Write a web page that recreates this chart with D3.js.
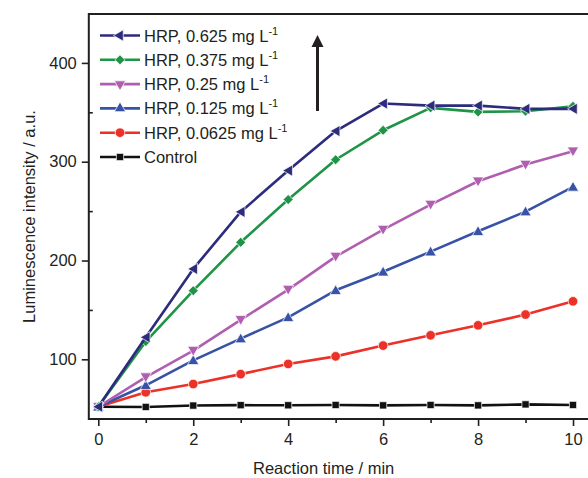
<!DOCTYPE html>
<html>
<head>
<meta charset="utf-8">
<script src="https://cdn.jsdelivr.net/npm/d3@7"></script>
<style>
  html, body { margin: 0; padding: 0; background: #fff; }
  svg { display: block; }
  text { font-family: "Liberation Sans", Arial, sans-serif; fill: #231f20; }
</style>
</head>
<body>
<svg id="chart" width="588" height="478"></svg>
<script>
// Reaction time (min)
const times = [0, 1, 2, 3, 4, 5, 6, 7, 8, 9, 10];

// Luminescence intensity (a.u.) for each HRP concentration
const hrp0625 = [52, 122.3, 191.5, 249.2, 291, 331, 358.9, 356.8, 356.8, 353.5, 353.5];
const hrp0375 = [52, 118, 169.5, 218.4, 261.7, 302, 331.8, 354.5, 350.4, 351.1, 356.1];
const hrp025  = [52, 82, 108.8, 140, 170.6, 204, 231.3, 256.6, 280.2, 297.1, 310.6];
const hrp0125 = [52, 73.7, 99, 121, 142.5, 169.9, 188.6, 209, 229.6, 249.5, 274.5];
const hrp00625 = [52, 66.6, 75, 85, 95.3, 103, 113.9, 124.3, 134.4, 145.3, 158.7];
const control = [52, 51.8, 53.2, 53.6, 53.5, 53.8, 53.4, 53.8, 53.4, 54.4, 53.8];

const seriesNames = ["HRP, 0.625 mg L", "HRP, 0.375 mg L", "HRP, 0.25 mg L",
                     "HRP, 0.125 mg L", "HRP, 0.0625 mg L", "Control"];
const seriesUnitSup = ["-1", "-1", "-1", "-1", "-1", ""];

const yMajorTicks = [100, 200, 300, 400];
const yMinorTicks = [150, 250, 350];
const xMajorTicks = [0, 2, 4, 6, 8, 10];
const xMinorTicks = [1, 3, 5, 7, 9];

const xTitle = "Reaction time / min";
const yTitle = "Luminescence intensity / a.u.";

// series styling: colour + marker
const styles = [
  { color: "#2c2b7d", shape: "tri", rot: -90, size: 55 },
  { color: "#1f9447", shape: "sq",  rot: 45,  size: 50 },
  { color: "#b05fb0", shape: "tri", rot: 180, size: 55 },
  { color: "#3853a6", shape: "tri", rot: 0,   size: 55 },
  { color: "#ec3129", shape: "circ", rot: 0,  size: 72 },
  { color: "#111111", shape: "sq",  rot: 0,   size: 52 }
];
const values = [hrp0625, hrp0375, hrp025, hrp0125, hrp00625, control];

const svg = d3.select("#chart");
const FS = 16.5;

const pLeft = 88.8, pRight = 592, pTop = 14, pBottom = 419;
const x = d3.scaleLinear().domain([-0.2, 10.4]).range([pLeft, pRight]);
const y = d3.scaleLinear().domain([39.6, 449.5]).range([pBottom, pTop]);

// axes
const axisColor = "#231f20";
function styleAxis(g) {
  g.select(".domain").remove();
  g.selectAll(".tick line").attr("stroke", axisColor).attr("stroke-width", 1.6);
  g.selectAll(".tick text").attr("font-size", FS).attr("fill", axisColor)
    .attr("font-family", "Liberation Sans, Arial, sans-serif");
}

svg.append("g").attr("transform", `translate(${pLeft},0)`)
  .call(d3.axisLeft(y).tickValues(yMajorTicks).tickSize(7).tickPadding(5).tickFormat(d3.format("d")))
  .call(styleAxis);
svg.append("g").attr("transform", `translate(${pLeft},0)`)
  .call(d3.axisLeft(y).tickValues(yMinorTicks).tickSize(-4).tickFormat(""))
  .call(styleAxis);
svg.append("g").attr("transform", `translate(0,${pBottom})`)
  .call(d3.axisBottom(x).tickValues(xMajorTicks).tickSize(7).tickPadding(7).tickFormat(d3.format("d")))
  .call(styleAxis);
svg.append("g").attr("transform", `translate(0,${pBottom})`)
  .call(d3.axisBottom(x).tickValues(xMinorTicks).tickSize(4).tickFormat(""))
  .call(styleAxis);

// plot frame
svg.append("rect")
  .attr("x", pLeft).attr("y", pTop)
  .attr("width", pRight - pLeft).attr("height", pBottom - pTop)
  .attr("fill", "none").attr("stroke", axisColor).attr("stroke-width", 2);

// axis titles
svg.append("text")
  .attr("x", (x(0) + x(10)) / 2 - 12).attr("y", 474)
  .attr("text-anchor", "middle").attr("font-size", FS)
  .text(xTitle);
svg.append("text")
  .attr("transform", `translate(35,${(pTop + pBottom) / 2}) rotate(-90)`)
  .attr("text-anchor", "middle").attr("font-size", FS)
  .text(yTitle);

function symbolFor(st) {
  const type = st.shape === "tri" ? d3.symbolTriangle
             : st.shape === "circ" ? d3.symbolCircle : d3.symbolSquare;
  return d3.symbol().type(type).size(st.size)();
}

const line = d3.line().x((d, i) => x(times[i])).y(d => y(d));

// draw control first so the strongest signal ends on top
const order = [5, 4, 3, 2, 1, 0];
order.forEach(k => {
  const st = styles[k];
  const g = svg.append("g");
  g.append("path").datum(values[k])
    .attr("d", line).attr("fill", "none")
    .attr("stroke", st.color).attr("stroke-width", 2.6)
    .attr("stroke-linejoin", "round");
  g.selectAll("path.m").data(values[k]).join("path")
    .attr("class", "m")
    .attr("d", symbolFor(st))
    .attr("transform", (d, i) => {
      const dy = st.shape === "tri" ? (st.rot === 180 ? -1 : st.rot === 0 ? 1 : 0) : 0;
      const dx = st.shape === "tri" && st.rot === -90 ? 1 : 0;
      return `translate(${x(times[i]) + dx},${y(d) + dy}) rotate(${st.rot})`;
    })
    .attr("fill", st.color).attr("stroke", "#fff").attr("stroke-width", 0.7);
});

// legend
const legY0 = 35.5, legDy = 24.3;
seriesNames.forEach((name, k) => {
  const st = styles[k];
  const cy = legY0 + k * legDy;
  const g = svg.append("g");
  g.append("line").attr("x1", 100).attr("x2", 140).attr("y1", cy).attr("y2", cy)
    .attr("stroke", st.color).attr("stroke-width", 2.6);
  g.append("path").attr("d", symbolFor(st))
    .attr("transform", `translate(120,${cy}) rotate(${st.rot})`)
    .attr("fill", st.color).attr("stroke", "#fff").attr("stroke-width", 0.7);
  const t = g.append("text").attr("x", 144).attr("y", cy + 6).attr("font-size", FS);
  t.append("tspan").text(name);
  if (seriesUnitSup[k]) {
    t.append("tspan").attr("font-size", 11).attr("dy", -7).text(seriesUnitSup[k]);
  }
});

// arrow showing increasing HRP concentration
const arrowX = 317.5;
svg.append("line").attr("x1", arrowX).attr("x2", arrowX).attr("y1", 111).attr("y2", 44)
  .attr("stroke", "#231f20").attr("stroke-width", 3);
svg.append("path")
  .attr("d", `M${arrowX},35 L${arrowX + 6},47 L${arrowX - 6},47 Z`)
  .attr("fill", "#231f20");
</script>
</body>
</html>
